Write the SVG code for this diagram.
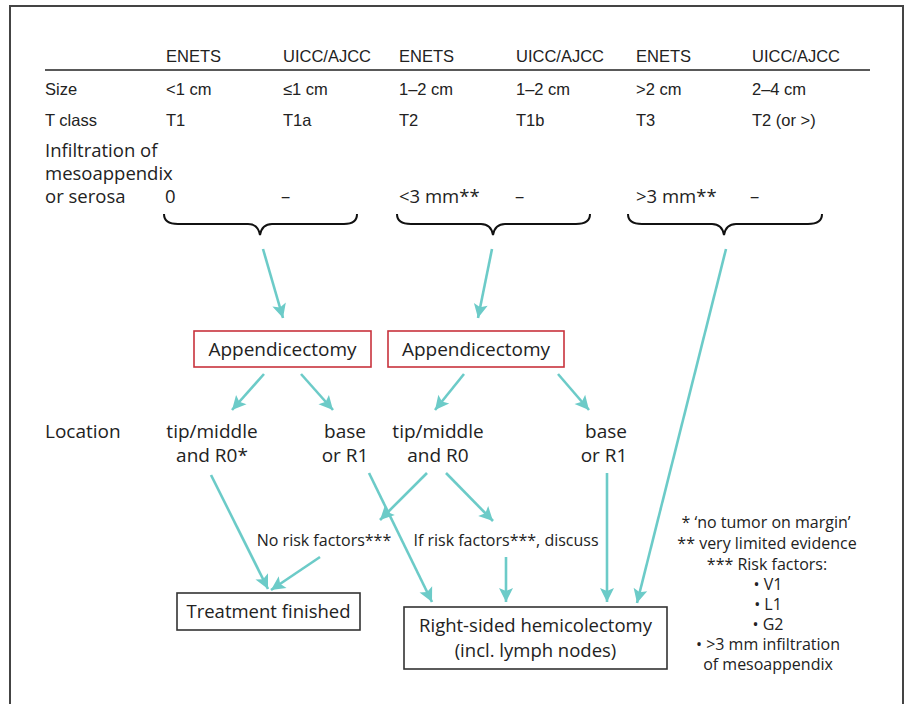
<svg xmlns="http://www.w3.org/2000/svg" width="908" height="704" viewBox="0 0 908 704">
<style>
.hd{font-family:"Liberation Sans",Arial,sans-serif;font-size:16.5px;fill:#222}
.t{font-family:"Open Sans","Noto Sans",sans-serif;font-size:19px;fill:#222}
.c{text-anchor:middle}
.fn{font-family:"Open Sans","Noto Sans",sans-serif;font-size:16px;fill:#222;text-anchor:middle}
.brace{fill:none;stroke:#111;stroke-width:2}
.arr{fill:none;stroke:#6ccbc8;stroke-width:2.6;marker-end:url(#ah)}
.red{fill:#fff;stroke:#c8323c;stroke-width:1.6}
.blk{fill:#fff;stroke:#333;stroke-width:1.6}
</style>
<defs>
<marker id="ah" markerUnits="userSpaceOnUse" markerWidth="16" markerHeight="16" viewBox="0 0 16 16" refX="15" refY="8" orient="auto">
<path d="M1,1 L15,8 L1,15 L4,8 z" fill="#6ccbc8"/>
</marker>
</defs>
<rect x="0" y="0" width="908" height="704" fill="#fff"/>
<path d="M10,712 L10,6 L903,6 L903,712" fill="none" stroke="#444" stroke-width="2"/>

<g id="table">
<line x1="45" y1="70" x2="870" y2="70" stroke="#222" stroke-width="1.3"/>
<g class="hd">
<text x="166" y="62">ENETS</text><text x="283" y="62">UICC/AJCC</text>
<text x="399" y="62">ENETS</text><text x="516" y="62">UICC/AJCC</text>
<text x="636" y="62">ENETS</text><text x="752" y="62">UICC/AJCC</text>
<text x="45" y="95">Size</text>
<text x="166" y="95">&lt;1 cm</text><text x="283" y="95">≤1 cm</text>
<text x="399" y="95">1–2 cm</text><text x="516" y="95">1–2 cm</text>
<text x="636" y="95">&gt;2 cm</text><text x="752" y="95">2–4 cm</text>
<text x="45" y="126">T class</text>
<text x="166" y="126">T1</text><text x="283" y="126">T1a</text>
<text x="399" y="126">T2</text><text x="516" y="126">T1b</text>
<text x="636" y="126">T3</text><text x="752" y="126">T2 (or &gt;)</text>
</g>
<g class="t" style="font-size:18.5px">
<text x="45" y="157">Infiltration of</text>
<text x="45" y="180">mesoappendix</text>
<text x="45" y="203">or serosa</text>
<text x="165" y="203">0</text><text x="281" y="203">–</text>
<text x="399" y="203">&lt;3 mm**</text><text x="515" y="203">–</text>
<text x="636" y="203">&gt;3 mm**</text><text x="750" y="203">–</text>
</g>
</g>

<g id="braces">
<path class="brace" d="M164,214 Q164,224 178,224 L248,224 Q258,224 260,235 Q262,224 272,224 L344,224 Q357,224 357,214"/>
<path class="brace" d="M397,214 Q397,224 411,224 L481,224 Q491,224 493,235 Q495,224 505,224 L576,224 Q590,224 590,214"/>
<path class="brace" d="M628,214 Q628,224 642,224 L712,224 Q722,224 724,235 Q726,224 736,224 L808,224 Q822,224 822,214"/>
</g>

<g id="appendicectomy1">
<rect class="red" x="194" y="331" width="177" height="36"/>
<text class="t c" x="282.5" y="356">Appendicectomy</text>
</g>
<g id="appendicectomy2">
<rect class="red" x="388" y="331" width="176" height="36"/>
<text class="t c" x="476" y="356">Appendicectomy</text>
</g>

<g id="location" class="t"><text x="45" y="438">Location</text></g>
<g id="tipmiddle1" class="t c"><text x="212" y="438">tip/middle</text><text x="212" y="462">and R0*</text></g>
<g id="base1" class="t c"><text x="345" y="438">base</text><text x="345" y="462">or R1</text></g>
<g id="tipmiddle2" class="t c"><text x="438" y="438">tip/middle</text><text x="438" y="462">and R0</text></g>
<g id="base2" class="t c"><text x="606" y="438">base</text><text x="604" y="462">or R1</text></g>

<g id="norisk" class="t"><text x="324" y="546" text-anchor="middle" style="font-size:16px">No risk factors***</text></g>
<g id="ifrisk" class="t"><text x="506" y="546" text-anchor="middle" style="font-size:16px">If risk factors***, discuss</text></g>

<g id="treatment">
<rect class="blk" x="177" y="593" width="183" height="37"/>
<text class="t c" x="268.5" y="618" style="font-size:18.5px">Treatment finished</text>
</g>
<g id="hemicolectomy">
<rect class="blk" x="404" y="607" width="263" height="62"/>
<text class="t c" x="535.5" y="632" style="font-size:18.5px">Right-sided hemicolectomy</text>
<text class="t c" x="535.5" y="657" style="font-size:18.5px">(incl. lymph nodes)</text>
</g>

<g id="footnotes" class="fn">
<text x="766" y="528">*  ‘no tumor on margin’</text>
<text x="767" y="549">**  very limited evidence</text>
<text x="767" y="570">***  Risk factors:</text>
<text x="768" y="590">• V1</text>
<text x="768" y="610">• L1</text>
<text x="768" y="630">• G2</text>
<text x="768" y="650">• &gt;3 mm infiltration</text>
<text x="768" y="670">of mesoappendix</text>
</g>

<g id="connectors">
<line class="arr" x1="263" y1="249" x2="283" y2="318"/>
<line class="arr" x1="492" y1="249" x2="478" y2="318"/>
<line class="arr" x1="726" y1="249" x2="637" y2="603"/>
<line class="arr" x1="264" y1="374" x2="232" y2="410"/>
<line class="arr" x1="301" y1="374" x2="333" y2="410"/>
<line class="arr" x1="464" y1="374" x2="435" y2="410"/>
<line class="arr" x1="558" y1="374" x2="589" y2="410"/>
<line class="arr" x1="211" y1="475" x2="268" y2="589"/>
<line class="arr" x1="369" y1="473" x2="432" y2="602"/>
<line class="arr" x1="427" y1="473" x2="380" y2="520"/>
<line class="arr" x1="446" y1="473" x2="493" y2="521"/>
<line class="arr" x1="607" y1="473" x2="607" y2="602"/>
<line class="arr" x1="506" y1="557" x2="506" y2="602"/>
<line class="arr" x1="320" y1="557" x2="271" y2="590"/>
</g>
</svg>
